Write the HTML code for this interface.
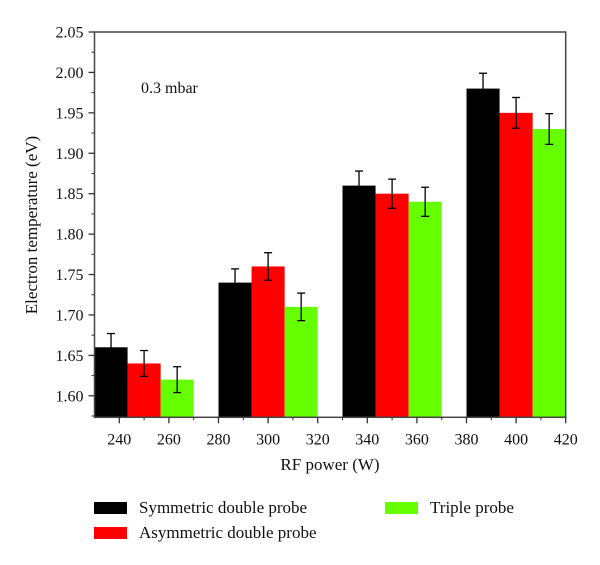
<!DOCTYPE html>
<html><head><meta charset="utf-8"><style>
body{margin:0;background:#fff;}
svg{display:block;font-family:"Liberation Serif",serif;}
</style></head><body>
<svg id="chart" width="600" height="565" viewBox="0 0 600 565"></svg>
<script>
const categories=[240,290,340,390];
const symmetric=[1.66,1.74,1.86,1.98];
const asymmetric=[1.64,1.76,1.85,1.95];
const triple=[1.62,1.71,1.84,1.93];
const symErr=[0.017,0.017,0.018,0.019];
const asymErr=[0.016,0.017,0.018,0.019];
const triErr=[0.016,0.017,0.018,0.019];
const xTicks=[240,260,280,300,320,340,360,380,400,420];
const yTicks=[1.60,1.65,1.70,1.75,1.80,1.85,1.90,1.95,2.00,2.05];

const NS="http://www.w3.org/2000/svg";
const svg=document.getElementById('chart');
const X0=94.5,X1=565.7,Y0=417.3,Y1=32;
const xmin=230,xmax=420,ymin=1.5734,ymax=2.05;
const xs=v=>X0+(v-xmin)/(xmax-xmin)*(X1-X0);
const ys=v=>Y0-(v-ymin)/(ymax-ymin)*(Y0-Y1);
function mk(t,a,p){const e=document.createElementNS(NS,t);for(const k in a)e.setAttribute(k,a[k]);(p||svg).appendChild(e);return e;}

const series=[[symmetric,symErr,'#000000','symmetric'],[asymmetric,asymErr,'#ff0000','asymmetric'],[triple,triErr,'#66ff00','triple']];
const bw=40/3;
categories.forEach((c,i)=>{
  series.forEach((s,j)=>{
    const x0=xs(c-10+j*bw),x1=xs(c-10+(j+1)*bw);
    const r=mk('rect',{x:x0,y:ys(s[0][i]),width:x1-x0,height:Y0-ys(s[0][i]),fill:s[2]});
    
    
    const cx=(x0+x1)/2,yt=ys(s[0][i]+s[1][i]),yb=ys(s[0][i]-s[1][i]);
    const g=mk('g',{stroke:'#000','stroke-width':1.3});
    
    
    mk('line',{x1:cx,x2:cx,y1:yt,y2:yb},g);
    mk('line',{x1:cx-4,x2:cx+4,y1:yt,y2:yt},g);
    mk('line',{x1:cx-4,x2:cx+4,y1:yb,y2:yb},g);
  });
});
const frame=mk('rect',{x:X0,y:Y1,width:X1-X0,height:Y0-Y1,fill:'none',stroke:'#444','stroke-width':1.5});


// x ticks
xTicks.forEach(v=>{
  const x=xs(v);
  mk('line',{x1:x,x2:x,y1:Y0,y2:Y0+6,stroke:'#333','stroke-width':1.3});
  const mx=xs(v-10);
  if(v-10>xmin) mk('line',{x1:mx,x2:mx,y1:Y0,y2:Y0+3,stroke:'#333','stroke-width':1});
  const t=mk('text',{x:x,y:Y0+27,'text-anchor':'middle','font-size':16,fill:'#111'});
  t.textContent=v;
  
  
});
yTicks.forEach(v=>{
  const y=ys(v);
  mk('line',{x1:X0-6,x2:X0,y1:y,y2:y,stroke:'#333','stroke-width':1.3});
  const my=ys(v-0.025);
  if(v-0.025>ymin) mk('line',{x1:X0-3,x2:X0,y1:my,y2:my,stroke:'#333','stroke-width':1});
  const t=mk('text',{x:X0-11,y:y+5.5,'text-anchor':'end','font-size':16,fill:'#111'});
  t.textContent=v.toFixed(2);
  
  
});
let t=mk('text',{x:330,y:470,'text-anchor':'middle','font-size':17,fill:'#111'});
t.textContent='RF power (W)';


t=mk('text',{x:0,y:0,'text-anchor':'middle','font-size':17,fill:'#111',transform:'translate(37,225) rotate(-90)'});
t.textContent='Electron temperature (eV)';


t=mk('text',{x:141,y:93,'font-size':16,fill:'#111'});
t.textContent='0.3 mbar';


const leg=[['Symmetric double probe','#000',94,502],['Asymmetric double probe','#ff0000',94,527],['Triple probe','#66ff00',385,502]];
leg.forEach(l=>{
  const g=mk('g',{});
  
  
  mk('rect',{x:l[2],y:l[3],width:33,height:12,fill:l[1]},g);
  const tt=mk('text',{x:l[2]+45,y:l[3]+11,'font-size':17,fill:'#111'},g);
  tt.textContent=l[0];
});
</script>
</body></html>
